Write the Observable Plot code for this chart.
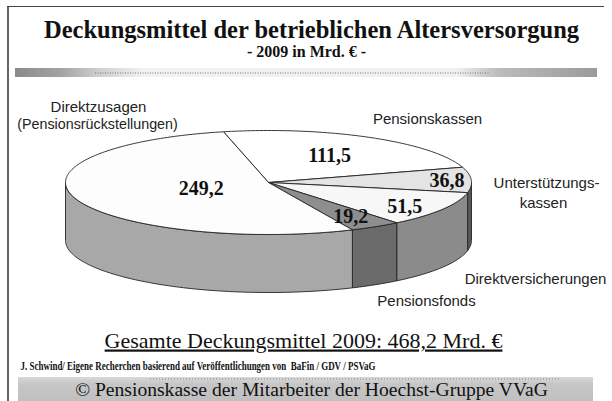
<!DOCTYPE html>
<html><head><meta charset="utf-8">
<script src="https://cdn.jsdelivr.net/npm/d3@7"></script>
<script src="https://cdn.jsdelivr.net/npm/@observablehq/plot@0.6"></script>
<style>body{margin:0;background:#fff} svg{display:block}</style>
</head><body><div id="chart"></div>
<script>
// ---- data ----
const categories = ["Pensionskassen", "Unterstützungskassen", "Direktversicherungen", "Pensionsfonds", "Direktzusagen"];
const values = [111.5, 36.8, 51.5, 19.2, 249.2];
const valueLabels = ["111,5", "36,8", "51,5", "19,2", "249,2"];
const categoryLabelLines = [["Pensionskassen"], ["Unterstützungs-", "kassen"], ["Direktversicherungen"], ["Pensionsfonds"], ["Direktzusagen", "(Pensionsrückstellungen)"]];
const title = "Deckungsmittel der betrieblichen Altersversorgung";
const subtitle = "- 2009 in Mrd. € -";
const totalText = "Gesamte Deckungsmittel 2009: 468,2 Mrd. €";
const sourceText = "J. Schwind/ Eigene Recherchen basierend auf Veröffentlichungen von  BaFin / GDV / PSVaG";
const footerText = "© Pensionskasse der Mitarbeiter der Hoechst-Gruppe VVaG";

// ---- styles ----
const topFill = ["#ffffff", "#e4e4e4", "#f7f7f7", "#8e8e8e", "#fdfdfd"];
const sideFill = ["#9a9a9a", "#5a5a5a", "#8b8b8b", "#6b6b6b", "#a8a8a8"];
const serif = "'Liberation Serif','Times New Roman',serif";
const sans = "'Liberation Sans',Arial,sans-serif";

// ---- geometry ----
const W = 612, H = 401;
const cx = 268, cy = 182, rx = 203, ry = 52, depth = 58;
const startA = -12.8 * Math.PI / 180;
const arcs = d3.pie().sort(null).startAngle(startA).endAngle(startA + 2 * Math.PI)(values);
const px = a => cx + rx * Math.sin(a);
const py = a => cy - ry * Math.cos(a);
function arcPts(a0, a1, dy = 0) {
  const n = Math.max(2, Math.ceil(Math.abs(a1 - a0) / 0.02));
  return d3.range(n + 1).map(k => { const a = a0 + (a1 - a0) * k / n; return {x: px(a), y: py(a) + dy}; });
}
const sides = [], tops = [];
arcs.forEach((d, i) => {
  const s = Math.max(d.startAngle, Math.PI / 2), e = Math.min(d.endAngle, 3 * Math.PI / 2);
  if (e > s) {
    const pts = [...arcPts(s, e), ...arcPts(e, s, depth)];
    pts.push(pts[0]);
    sides.push({i, pts});
  }
  const t = [{x: cx, y: cy}, ...arcPts(d.startAngle, d.endAngle), {x: cx, y: cy}];
  tops.push({i, pts: t});
});
const labelK = [0.6, 0.88, 0.8, 0.77, 0.35];
const valuePos = arcs.map((d, i) => {
  const m = (d.startAngle + d.endAngle) / 2;
  return {x: cx + labelK[i] * rx * Math.sin(m) - (i === 2 ? 3 : 0), y: cy - labelK[i] * ry * Math.cos(m) + (i === 2 ? 3 : 0), t: valueLabels[i]};
});
// category label anchors (baseline centre)
const catAnchor = [[427, 123], [546, 187], [535, 283], [426, 305], [98, 111]];
const catRows = [];
categoryLabelLines.forEach((lines, i) => lines.forEach((l, j) => catRows.push({
  t: l, x: catAnchor[i][0] - (i === 4 && j === 1 ? 1 : (i === 1 && j === 1 ? 3 : 0)),
  y: catAnchor[i][1] + j * (i === 4 ? 17 : 20), size: (i === 4 && j === 1) ? 14.3 : 15
})));

const marks = [
  // frame
  Plot.ruleX([7.5], {y1: 6, y2: H, stroke: "#333", strokeWidth: 1.5}),
  Plot.ruleY([6], {x1: 7, x2: 604, stroke: "#444", strokeWidth: 1.2}),
  // decorative bars
  Plot.rect([0], {x1: 15, x2: 597, y1: 68, y2: 77, fill: "url(#barGrad)"}),
  Plot.ruleY([72.5], {x1: 95, x2: 490, stroke: "#777", strokeWidth: 1, strokeDasharray: "1,1.5"}),
  Plot.rect([0], {x1: 18, x2: 593, y1: 377, y2: H, fill: "url(#footGrad)"}),
  Plot.ruleY([378.5], {x1: 150, x2: 560, stroke: "#888", strokeWidth: 1, strokeDasharray: "1,2"}),
];
sides.forEach(s => marks.push(Plot.line(s.pts, {x: "x", y: "y", fill: sideFill[s.i], stroke: "#222", strokeWidth: 0.9})));
tops.forEach(s => marks.push(Plot.line(s.pts, {x: "x", y: "y", fill: topFill[s.i], stroke: "#222", strokeWidth: 0.9})));
marks.push(
  Plot.text(valuePos, {x: "x", y: "y", text: "t", fontFamily: serif, fontWeight: "bold", fontSize: 20, fill: "#111"}),
  Plot.text(catRows, {x: "x", y: "y", text: "t", fontFamily: sans, fontSize: d => d.size, lineAnchor: "bottom", fill: "#222"}),
  Plot.text([title], {x: 311, y: 37, text: d => d, fontFamily: serif, fontWeight: "bold", fontSize: 24.5, lineAnchor: "bottom", fill: "#111"}),
  Plot.text([subtitle], {x: 306, y: 56, text: d => d, fontFamily: serif, fontWeight: "bold", fontSize: 16, lineAnchor: "bottom", fill: "#111"}),
  Plot.text([totalText], {x: 303, y: 347, text: d => d, fontFamily: serif, fontSize: 22, lineAnchor: "bottom", fill: "#111"}),
  Plot.text([sourceText], {x: 20, y: 369.5, text: d => d, fontFamily: serif, fontWeight: "bold", fontSize: 12, textAnchor: "start", lineAnchor: "bottom", fill: "#111"}),
  Plot.text([footerText], {x: 311, y: 395, text: d => d, fontFamily: serif, fontSize: 19.6, lineAnchor: "bottom", fill: "#111"})
);

const svg = Plot.plot({
  width: W, height: H, margin: 0,
  x: {domain: [0, W], range: [0, W], axis: null},
  y: {domain: [0, H], range: [0, H], axis: null},
  style: {background: "#fff", overflow: "visible"},
  marks
});
const defs = d3.select(svg).insert("defs", ":first-child");
const g1 = defs.append("linearGradient").attr("id", "barGrad");
[[0, "#8a8a8a"], [0.08, "#a4a4a4"], [0.14, "#cccccc"], [0.22, "#f2f2f2"], [0.76, "#f0f0f0"], [0.83, "#bcbcbc"], [1, "#9a9a9a"]]
  .forEach(([o, c]) => g1.append("stop").attr("offset", o).attr("stop-color", c));
const g2 = defs.append("linearGradient").attr("id", "footGrad").attr("x1", 0).attr("y1", 0).attr("x2", 0).attr("y2", 1);
[[0, "#d8d8d8"], [0.3, "#c6c6c6"], [1, "#c0c0c0"]].forEach(([o, c]) => g2.append("stop").attr("offset", o).attr("stop-color", c));
const texts = d3.select(svg).selectAll("text");
texts.filter(function () { return this.textContent === totalText; }).style("text-decoration", "underline");
texts.filter(function () { return this.textContent === sourceText; })
  .attr("textLength", 355).attr("lengthAdjust", "spacingAndGlyphs");
document.getElementById("chart").append(svg);
</script>
</body></html>
